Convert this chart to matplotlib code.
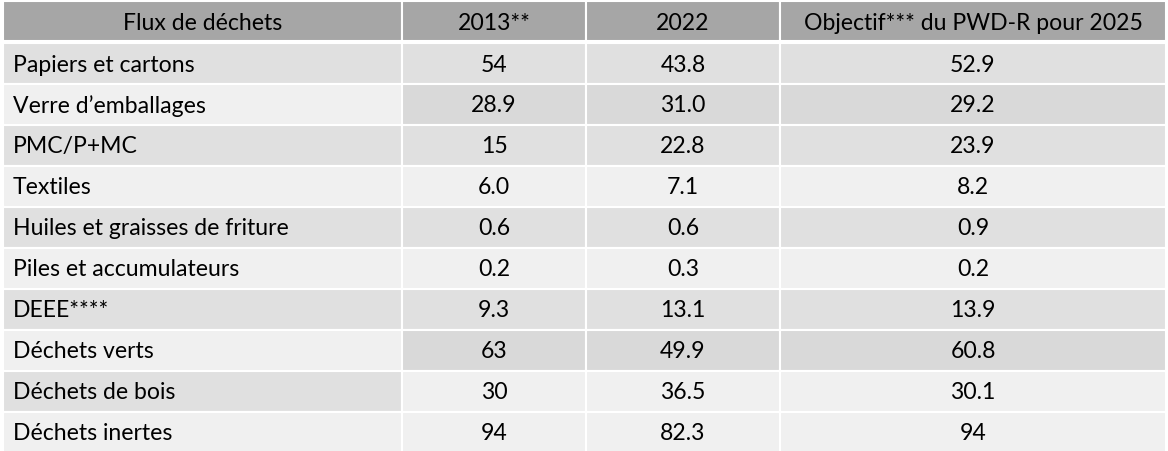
import matplotlib.pyplot as plt
from matplotlib.patches import Rectangle

# données du tableau
entetes = ["Flux de déchets", "2013**", "2022", "Objectif*** du PWD-R pour 2025"]
flux = ["Papiers et cartons", "Verre d\u2019emballages", "PMC/P+MC", "Textiles",
        "Huiles et graisses de friture", "Piles et accumulateurs", "DEEE****",
        "Déchets verts", "Déchets de bois", "Déchets inertes"]
val_2013 = ["54", "28.9", "15", "6.0", "0.6", "0.2", "9.3", "63", "30", "94"]
val_2022 = ["43.8", "31.0", "22.8", "7.1", "0.6", "0.3", "13.1", "49.9", "36.5", "82.3"]
objectif_2025 = ["52.9", "29.2", "23.9", "8.2", "0.9", "0.2", "13.9", "60.8", "30.1", "94"]

# couleurs de fond : (première colonne, colonnes de valeurs)
fonds = [("#e0e0e0", "#e0e0e0"), ("#f0f0f0", "#d9d9d9"), ("#e0e0e0", "#e0e0e0"),
         ("#f0f0f0", "#f0f0f0"), ("#e0e0e0", "#e0e0e0"), ("#f0f0f0", "#f0f0f0"),
         ("#e0e0e0", "#e0e0e0"), ("#f0f0f0", "#d9d9d9"), ("#e0e0e0", "#f0f0f0"),
         ("#f0f0f0", "#f0f0f0")]

W, H = 1168, 452
fig = plt.figure(figsize=(W / 100, H / 100), dpi=100)
ax = fig.add_axes([0, 0, 1, 1])
ax.set_xlim(0, W)
ax.set_ylim(H, 0)
ax.axis("off")

bords_x = [3, 402, 586, 780, 1166]
haut_entete = 40
y0 = 2
h_ligne = 41
police = "Lato"
taille = 16.6

# entête
for j, txt in enumerate(entetes):
    x1, x2 = bords_x[j], bords_x[j + 1]
    ax.add_patch(Rectangle((x1, y0), x2 - x1, haut_entete, facecolor="#a6a6a6",
                           edgecolor="white", linewidth=1.5))
    ax.text((x1 + x2) / 2, y0 + haut_entete / 2 + 1, txt, ha="center", va="center",
            fontsize=taille, family=police, color="black")

# lignes de données
colonnes = [flux, val_2013, val_2022, objectif_2025]
for i in range(len(flux)):
    y = y0 + haut_entete + 1.5 + i * h_ligne
    for j in range(4):
        x1, x2 = bords_x[j], bords_x[j + 1]
        fc = fonds[i][0] if j == 0 else fonds[i][1]
        ax.add_patch(Rectangle((x1, y), x2 - x1, h_ligne, facecolor=fc,
                               edgecolor="white", linewidth=1.5))
        txt = colonnes[j][i]
        if j == 0:
            ax.text(x1 + 10, y + h_ligne / 2 + 1, txt, ha="left", va="center",
                    fontsize=taille, family=police, color="black")
        else:
            ax.text((x1 + x2) / 2, y + h_ligne / 2 + 1, txt, ha="center", va="center",
                    fontsize=taille, family=police, color="black")

fig.savefig("out.png", dpi=100)
